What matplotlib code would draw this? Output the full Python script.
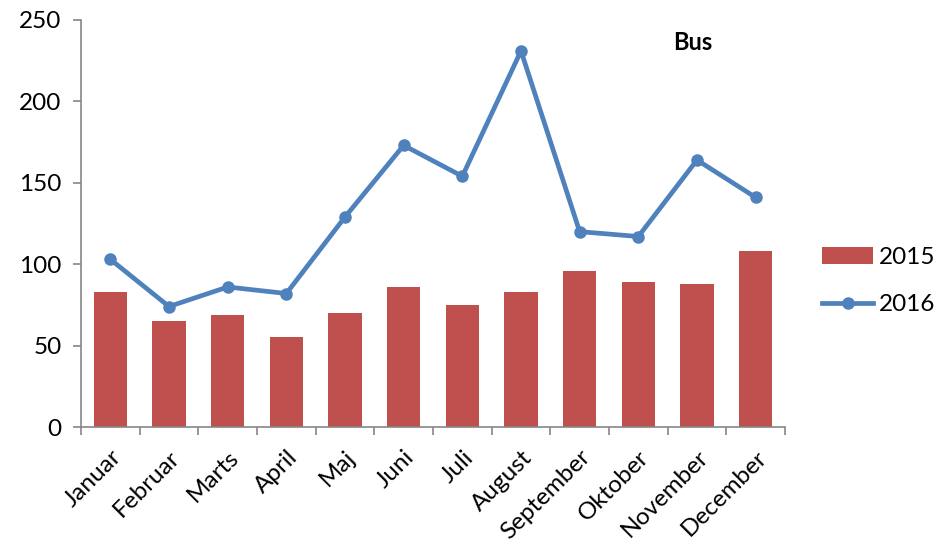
import matplotlib.pyplot as plt
import numpy as np

months = ["Januar", "Februar", "Marts", "April", "Maj", "Juni", "Juli",
          "August", "September", "Oktober", "November", "December"]
bus_2015 = [83, 65, 69, 55, 70, 86, 75, 83, 96, 89, 88, 108]
bus_2016 = [103, 74, 86, 82, 129, 173, 154, 231, 120, 117, 164, 141]

plt.rcParams['font.family'] = ['Lato', 'DejaVu Sans']
FS = 17.5

fig = plt.figure(figsize=(9.39, 5.49), dpi=100)
ax = fig.add_axes([81 / 939, 1 - 427 / 549, 704 / 939, 407 / 549])

x = np.arange(len(months))
bars = ax.bar(x, bus_2015, width=0.57, color="#C0504D", label="2015", zorder=2)
line, = ax.plot(x, bus_2016, color="#4F81BD", lw=3.4, marker="o", ms=8, label="2016", zorder=3)

ax.set_xlim(-0.5, len(months) - 0.5)
ax.set_ylim(0, 250)
ax.set_yticks(range(0, 251, 50))

# category labels centered, tick marks between categories
ax.set_xticks(x)
ax.set_xticklabels(months, rotation=45, ha="right", rotation_mode="anchor", fontsize=FS)
ax.tick_params(axis="x", length=0, pad=14)
ax.set_xticks(np.arange(-0.5, len(months)), minor=True)
ax.tick_params(axis="x", which="minor", length=6, color="#868686", width=1.2)
ax.tick_params(axis="y", labelsize=FS, length=6, color="#868686", width=1.2, pad=8)

for side in ["top", "right"]:
    ax.spines[side].set_visible(False)
for side in ["left", "bottom"]:
    ax.spines[side].set_color("#868686")
    ax.spines[side].set_linewidth(1.2)

fig.text(693 / 939, 1 - 42 / 549, "Bus", ha="center", va="center",
         fontsize=17, fontweight="bold")

fig.legend([bars, line], ["2015", "2016"], loc="center left",
           bbox_to_anchor=(822 / 939, 1 - 281 / 549), frameon=False,
           fontsize=FS, handlelength=2.1, labelspacing=1.1, handletextpad=0.25,
           borderpad=0, borderaxespad=0)

fig.savefig("out.png", dpi=100)
